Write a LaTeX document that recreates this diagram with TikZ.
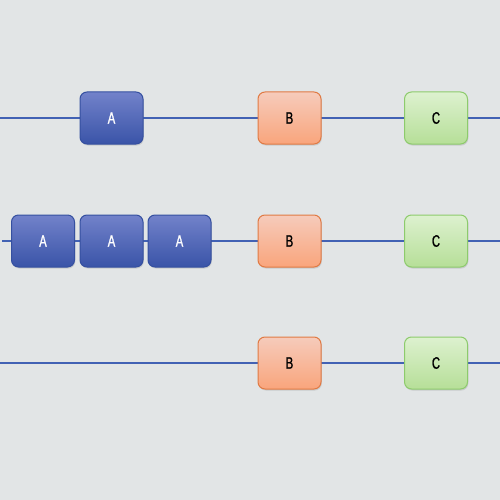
\documentclass[tikz,border=0pt]{standalone}
\usepackage{fontspec}
\setmainfont{Liberation Sans}
\newfontfamily\boxfont[FakeStretch=0.68,FakeBold=1.2]{Liberation Sans}
\usetikzlibrary{shadows}
\definecolor{bg}{HTML}{E2E5E6}
\definecolor{wire}{HTML}{4262B4}
\definecolor{atop}{HTML}{7282CA}
\definecolor{abot}{HTML}{3A54A8}
\definecolor{aedge}{HTML}{3550A0}
\definecolor{btop}{HTML}{F6CBBB}
\definecolor{bbot}{HTML}{F9A57C}
\definecolor{bedge}{HTML}{E07A44}
\definecolor{ctop}{HTML}{DDF1CF}
\definecolor{cbot}{HTML}{B6DF98}
\definecolor{cedge}{HTML}{8DCB6C}
\tikzset{
  box/.style={minimum width=63pt, minimum height=52pt, rounded corners=7pt, line width=1pt, font=\boxfont\fontsize{16.5}{18}\selectfont, inner sep=0pt,
    drop shadow={shadow xshift=0.8pt, shadow yshift=-1.5pt, opacity=0.25}},
  boxa/.style={box, draw=aedge, top color=atop, bottom color=abot, text=white},
  boxb/.style={box, draw=bedge, top color=btop, bottom color=bbot, text=black},
  boxc/.style={box, draw=cedge, top color=ctop, bottom color=cbot, text=black},
  wireline/.style={draw=wire, line width=2pt}
}
\begin{document}
\begin{tikzpicture}[x=1pt,y=-1pt]
\fill[bg] (0,0) rectangle (500,500);
\useasboundingbox (0,0) rectangle (500,500);
% row 1
\coordinate (l1) at (0,118);
\coordinate (r1) at (500,118);
\draw[wireline] (l1) -- (r1);
\node[boxa] (a1) at (111.5,118) {A};
\node[boxb] (b1) at (289.5,118) {B};
\node[boxc] (c1) at (436,118) {C};
% row 2
\coordinate (l2) at (2,241);
\coordinate (r2) at (500,241);
\draw[wireline] (l2) -- (r2);
\node[boxa] (a21) at (43,241) {A};
\node[boxa] (a22) at (111.5,241) {A};
\node[boxa] (a23) at (179.5,241) {A};
\node[boxb] (b2) at (289.5,241) {B};
\node[boxc] (c2) at (436,241) {C};
% row 3
\coordinate (l3) at (0,363);
\coordinate (r3) at (500,363);
\draw[wireline] (l3) -- (r3);
\node[boxb] (b3) at (289.5,363) {B};
\node[boxc] (c3) at (436,363) {C};
\end{tikzpicture}
\end{document}
